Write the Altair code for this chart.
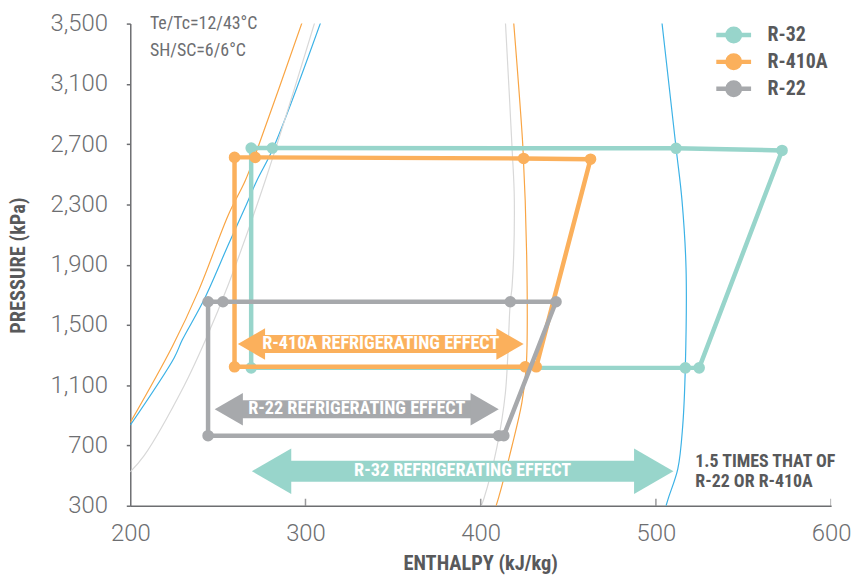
import math
import altair as alt
import pandas as pd

# ---------------- data ----------------
refrigerants = ["R-32", "R-410A", "R-22"]

# cycle state points in path order: compressor inlet, discharge, condenser sat. vapour,
# sat. liquid, subcooled liquid, after expansion, evaporator sat. vapour
r32_cycle_h = [524.7, 572.0, 511.5, 281.1, 269.0, 269.0, 516.8]
r32_cycle_p = [1215, 2658, 2672, 2674, 2674, 1215, 1215]
r410a_cycle_h = [431.7, 462.7, 424.5, 271.3, 259.5, 259.5, 425.4]
r410a_cycle_p = [1222, 2600, 2605, 2612, 2612, 1222, 1222]
r22_cycle_h = [413.2, 443.0, 416.9, 252.9, 244.4, 244.4, 410.3]
r22_cycle_p = [765, 1654, 1654, 1654, 1654, 765, 765]

# saturation curves
r32_liquid_h = [200.0, 225.0, 229.7, 242.0, 256.2, 265.6, 272.2, 281.7, 308.8]
r32_liquid_p = [835, 1281, 1401, 1665, 2039, 2281, 2457, 2676, 3512]
r32_vapour_h = [505.8, 507.3, 512.5, 515.3, 516.8, 517.2, 514.9, 511.5, 503.4]
r32_vapour_p = [300, 357, 544, 830, 1225, 1874, 2325, 2676, 3512]

r410a_liquid_h = [200.0, 224.0, 239.1, 256.2, 265.6, 272.8, 298.2]
r410a_liquid_p = [852, 1357, 1731, 2237, 2457, 2676, 3512]
r410a_vapour_h = [408.8, 410.3, 417.9, 423.5, 426.0, 426.5, 424.1, 418.8]
r410a_vapour_p = [300, 357, 698, 984, 1225, 1753, 2676, 3512]

r22_liquid_h = [200.0, 207.9, 230.6, 243.0, 256.2, 277.0, 305.4]
r22_liquid_p = [525, 632, 1093, 1401, 1775, 2457, 3512]
r22_vapour_h = [400.3, 401.8, 409.4, 414.1, 416.9, 417.9, 419.2, 417.9, 414.1]
r22_vapour_p = [300, 346, 698, 1050, 1654, 1753, 2325, 2676, 3512]

# refrigerating-effect arrows
arrow_refs = ["R-410A", "R-22", "R-32"]
arrow_labels = ["R-410A REFRIGERATING EFFECT", "R-22 REFRIGERATING EFFECT",
                "R-32 REFRIGERATING EFFECT"]
arrow_h_left = [261.4, 248.2, 269.4]
arrow_h_right = [424.5, 410.3, 510.0]
arrow_p = [1373, 940, 529]

note_lines = ["1.5 TIMES THAT OF", "R-22 OR R-410A"]
note_h = [522.5, 522.5]
note_p = [588, 460]

cond_lines = ["Te/Tc=12/43°C", "SH/SC=6/6°C"]
cond_h = [211.2, 211.2]
cond_p = [3497, 3321]

x_domain = [200, 600]
y_domain = [300, 3500]
x_ticks = [200, 300, 400, 500, 600]
y_ticks = [300, 700, 1100, 1500, 1900, 2300, 2700, 3100, 3500]

# ---------------- styles ----------------
cycle_colors = ["#98d5cb", "#fbb05c", "#a7a9ac"]
dome_colors = {"R-32": "#3cb2e6", "R-410A": "#f9a544", "R-22": "#d8d8d8"}
AXIS_GREY = "#6d6e71"
DARK = "#58595b"
COND = "'Roboto Condensed', 'Liberation Sans Narrow', 'DejaVu Sans Condensed', 'Arial Narrow', sans-serif"
LIGHT = "Roboto, 'Open Sans', sans-serif"

# ---------------- tables ----------------
cycles = {"R-32": (r32_cycle_h, r32_cycle_p),
          "R-410A": (r410a_cycle_h, r410a_cycle_p),
          "R-22": (r22_cycle_h, r22_cycle_p)}
rows = []
for ref, (hs, ps) in cycles.items():
    closed_h = hs + hs[:1]
    closed_p = ps + ps[:1]
    for i, (h, p) in enumerate(zip(closed_h, closed_p)):
        rows.append({"ref": ref, "step": i, "h": h, "p": p, "marker": i < len(hs)})
cycle_df = pd.DataFrame(rows)

domes = {"R-32": [(r32_liquid_h, r32_liquid_p), (r32_vapour_h, r32_vapour_p)],
         "R-410A": [(r410a_liquid_h, r410a_liquid_p), (r410a_vapour_h, r410a_vapour_p)],
         "R-22": [(r22_liquid_h, r22_liquid_p), (r22_vapour_h, r22_vapour_p)]}
drows = []
for ref, branches in domes.items():
    for b, (hs, ps) in enumerate(branches):
        for i, (h, p) in enumerate(zip(hs, ps)):
            drows.append({"ref": ref, "branch": f"{ref}-{b}", "idx": i, "h": h, "p": p})
dome_df = pd.DataFrame(drows)

arrow_df = pd.DataFrame({"ref": arrow_refs, "label": arrow_labels,
                         "h": arrow_h_left, "h_right": arrow_h_right, "p": arrow_p})
note_df = pd.DataFrame({"text": note_lines, "h": note_h, "p": note_p})
cond_df = pd.DataFrame({"text": cond_lines, "h": cond_h, "p": cond_p})
tick_df = pd.DataFrame({"h": x_ticks[1:], "p": [y_domain[0]] * (len(x_ticks) - 1)})

# ---------------- encodings ----------------
x_axis = alt.Axis(values=x_ticks, title="ENTHALPY (kJ/kg)", ticks=False, grid=False,
                  labelFont=LIGHT, labelFontWeight=300, labelFontSize=24,
                  labelColor=AXIS_GREY, labelPadding=16, labelFlush=False,
                  labelOverlap=False, domainColor=AXIS_GREY, domainWidth=1.5,
                  titleFont=COND, titleFontSize=20.5, titleFontWeight="bold",
                  titleColor=DARK, titleX=352, titleY=58, titleBaseline="middle")
y_axis = alt.Axis(values=y_ticks, format=",d", title="PRESSURE (kPa)", grid=False,
                  tickSize=4, tickColor=AXIS_GREY, tickWidth=1.5,
                  labelFont=LIGHT, labelFontWeight=300, labelFontSize=24,
                  labelColor=AXIS_GREY, labelPadding=19, labelFlush=False,
                  labelOverlap=False, domainColor=AXIS_GREY, domainWidth=1.5,
                  titleFont=COND, titleFontSize=20.5, titleFontWeight="bold",
                  titleColor=DARK, titleX=-112, titleY=243, titleAngle=270,
                  titleBaseline="middle", titleAlign="center")
SX = alt.Scale(domain=x_domain, nice=False, zero=False)
SY = alt.Scale(domain=y_domain, nice=False, zero=False)
X = alt.X("h:Q", scale=SX, axis=x_axis)
Y = alt.Y("p:Q", scale=SY, axis=y_axis)
Xn = alt.X("h:Q", scale=SX)
Yn = alt.Y("p:Q", scale=SY)

ref_scale = alt.Scale(domain=refrigerants, range=cycle_colors)
legend = alt.Legend(title=None, orient="none", legendX=587, legendY=-2,
                    symbolType="M-1,0L1,0M0.36,0A0.36,0.36,0,1,1,-0.36,0A0.36,0.36,0,1,1,0.36,0Z",
                    symbolSize=1225, symbolStrokeWidth=4.5, symbolOpacity=1,
                    labelFont=COND, labelFontSize=20, labelFontWeight="bold",
                    labelColor=DARK, labelOffset=14, clipHeight=27, rowPadding=0,
                    padding=0, symbolOffset=0)
stroke_enc = alt.Stroke("ref:N", scale=ref_scale, legend=legend)
fill_enc = alt.Fill("ref:N", scale=ref_scale, legend=legend)

# ---------------- layers ----------------
layers = []

# saturation dome curves
for ref in refrigerants:
    layers.append(
        alt.Chart(dome_df).transform_filter(alt.datum.ref == ref)
        .mark_line(color=dome_colors[ref], strokeWidth=1.2, interpolate="catmull-rom", clip=True)
        .encode(x=X, y=Y, detail="branch:N", order="idx:Q")
    )

# inward x ticks
layers.append(
    alt.Chart(tick_df).mark_tick(orient="vertical", size=14, thickness=1.5,
                                 color=AXIS_GREY, clip=True)
    .encode(x=Xn, y=Yn)
)

# cycles
for ref in refrigerants:
    layers.append(
        alt.Chart(cycle_df).transform_filter(alt.datum.ref == ref)
        .mark_line(strokeWidth=4.5, strokeJoin="round")
        .encode(x=Xn, y=Yn, order="step:Q", stroke=stroke_enc)
    )
    layers.append(
        alt.Chart(cycle_df).transform_filter((alt.datum.ref == ref) & alt.datum.marker)
        .mark_circle(size=135, opacity=1)
        .encode(x=Xn, y=Yn, fill=fill_enc)
    )

# arrows
arrow_style = {"R-410A": (1000, 18), "R-22": (1070, 18), "R-32": (2090, 21)}
for ref, label in zip(arrow_refs, arrow_labels):
    size, shaft = arrow_style[ref]
    col = cycle_colors[refrigerants.index(ref)]
    half = math.sqrt(3) / 4 * math.sqrt(size)
    base = alt.Chart(arrow_df).transform_filter(alt.datum.label == label)
    layers.append(
        base.mark_rule(strokeWidth=shaft, strokeCap="butt", color=col,
                       xOffset=2 * half - 1, x2Offset=-(2 * half - 1))
        .encode(x=Xn, x2="h_right:Q", y=Yn)
    )
    layers.append(
        base.mark_point(shape="triangle-left", filled=True, size=size, opacity=1,
                        color=col, strokeWidth=0, xOffset=half)
        .encode(x=Xn, y=Yn)
    )
    layers.append(
        base.mark_point(shape="triangle-right", filled=True, size=size, opacity=1,
                        color=col, strokeWidth=0, xOffset=-half)
        .encode(x=alt.X("h_right:Q", scale=SX), y=Yn)
    )
    layers.append(
        base.transform_calculate(mid="(datum.h + datum.h_right) / 2")
        .mark_text(font=COND, fontSize=18.3, fontWeight="bold", color="white",
                   align="center", baseline="middle")
        .encode(x=alt.X("mid:Q", scale=SX), y=Yn, text="label:N")
    )

# annotations
layers.append(
    alt.Chart(note_df).mark_text(font=COND, fontSize=18, fontWeight="bold", color=DARK,
                                 align="left", baseline="middle")
    .encode(x=Xn, y=Yn, text="text:N")
)
layers.append(
    alt.Chart(cond_df).mark_text(font=COND, fontSize=18, color=AXIS_GREY,
                                 align="left", baseline="middle")
    .encode(x=Xn, y=Yn, text="text:N")
)

chart = alt.layer(*layers).properties(
    width=705, height=485,
    padding={"left": 123, "top": 14, "right": 20, "bottom": 68},
    autosize=alt.AutoSizeParams(type="none"),
    background="white",
).configure_view(stroke=None)

chart.save("out.html", embed_options={"renderer": "svg", "actions": False})
